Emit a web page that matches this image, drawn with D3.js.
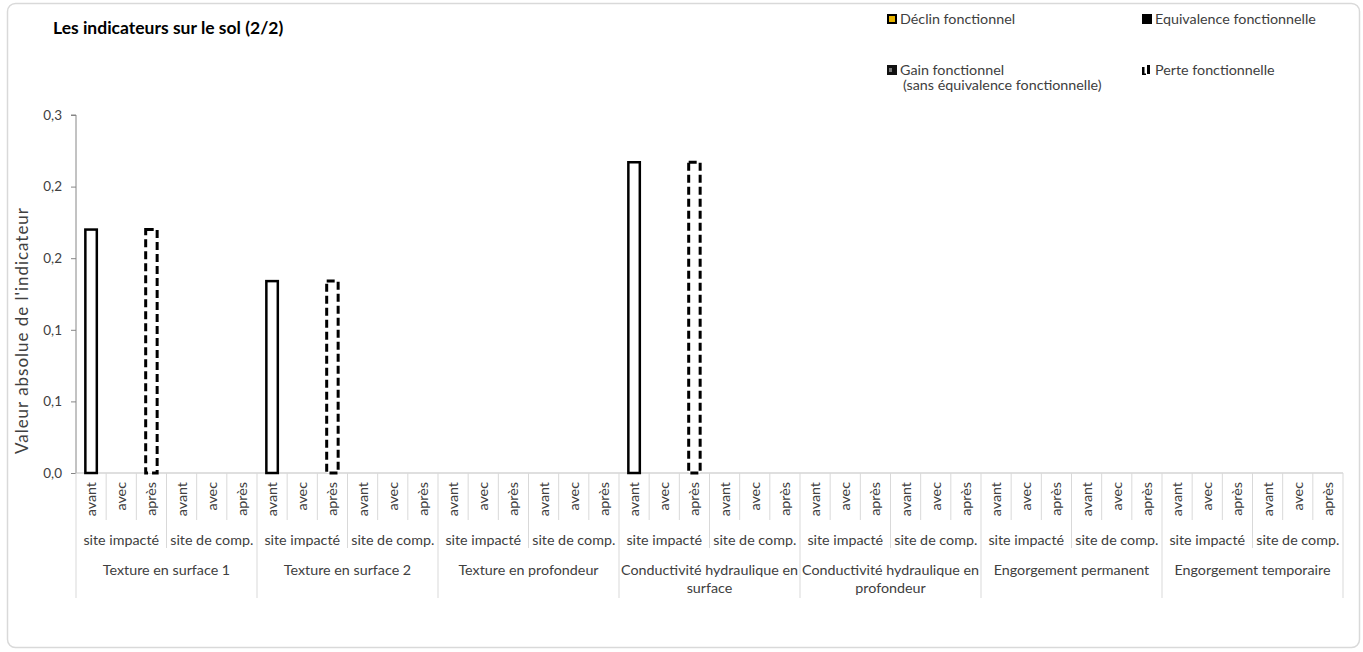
<!DOCTYPE html>
<html><head><meta charset="utf-8">
<script src="https://cdn.jsdelivr.net/npm/d3@7"></script>
<style>body{margin:0;background:#fff;} text{font-family:Lato,"Open Sans",sans-serif;}</style>
</head><body><svg id="c" width="1363" height="652"></svg>
<script>
const indicators = [["Texture en surface 1"],["Texture en surface 2"],["Texture en profondeur"],["Conductivité hydraulique en","surface"],["Conductivité hydraulique en","profondeur"],["Engorgement permanent"],["Engorgement temporaire"]];
const sites = ["site impacté","site de comp."];
const periods = ["avant","avec","après"];
// reference (avant, site impacté) values per indicator
const valeurAvant = [0.170, 0.134, 0, 0.217, 0, 0, 0];
// perte fonctionnelle (après, site impacté) values per indicator
const perteApres = [0.170, 0.134, 0, 0.217, 0, 0, 0];
const yTicks = [0, 0.05, 0.10, 0.15, 0.20, 0.25];
const legendItems = [["Déclin fonctionnel"],["Equivalence fonctionnelle"],["Gain fonctionnel","(sans équivalence fonctionnelle)"],["Perte fonctionnelle"]];

const svg = d3.select("#c");
const L = 76, R = 1343, T = 115, B = 473;
const FS = 14.3;
const slots = [];
indicators.forEach((ind,i)=>sites.forEach((s,j)=>periods.forEach((p,k)=>slots.push({i,j,k,key:i+"-"+j+"-"+k}))));
const x = d3.scaleBand().domain(slots.map(d=>d.key)).range([L,R]).paddingInner(0.62).paddingOuter(0.31);
const step = x.step();
const y = d3.scaleLinear().domain([0,0.25]).range([B,T]);

svg.append("rect").attr("x",7.5).attr("y",3.5).attr("width",1352).attr("height",644).attr("rx",8)
  .attr("fill","#fff").attr("stroke","#d9d9d9").attr("stroke-width",1.5);

svg.append("text").attr("x",53).attr("y",34).attr("font-weight","bold").attr("font-size",17.5).attr("fill","#000")
  .text("Les indicateurs sur le sol (2/2)");

// y axis
const yAxis = d3.axisLeft(y).tickValues(yTicks).tickSize(5).tickPadding(9)
  .tickFormat(d=>d3.format(".1f")(d+1e-9).replace(".",","));
const ga = svg.append("g").attr("transform",`translate(${L},0)`).call(yAxis);
ga.select(".domain").attr("stroke","#868686").attr("d",`M-5,${T}H0V${B}`);
ga.selectAll(".tick line").attr("stroke","#868686");
ga.selectAll(".tick text").attr("font-size",13.5).attr("fill","#404040").attr("font-family","Lato");
svg.append("text").attr("transform","translate(28,331) rotate(-90)").attr("text-anchor","middle")
  .attr("font-size",17).attr("textLength",246).attr("lengthAdjust","spacing")
  .attr("fill","#404040").text("Valeur absolue de l'indicateur");

// x axis baseline
svg.append("line").attr("x1",L).attr("x2",R).attr("y1",B).attr("y2",B).attr("stroke","#bfbfbf");
// separators
const grid = svg.append("g").attr("stroke","#d9d9d9").attr("stroke-width",1);
for(let n=0;n<=slots.length;n++){
  const xx = L + n*step;
  let y2 = 520;
  if(n%6===0) y2 = 598; else if(n%3===0) y2 = 548;
  grid.append("line").attr("x1",xx).attr("x2",xx).attr("y1",B).attr("y2",y2);
}
// level 1 labels
svg.append("g").selectAll("text").data(slots).join("text")
  .attr("transform",d=>`translate(${x(d.key)+x.bandwidth()/2+5},482) rotate(-90)`)
  .attr("text-anchor","end").attr("font-size",FS).attr("fill","#404040").text(d=>periods[d.k]);
// level 2
const siteData = [];
indicators.forEach((ind,i)=>sites.forEach((s,j)=>siteData.push({i,j,s})));
svg.append("g").selectAll("text").data(siteData).join("text")
  .attr("x",d=>L+(d.i*6+d.j*3+1.5)*step).attr("y",545).attr("text-anchor","middle")
  .attr("font-size",FS).attr("fill","#404040").text(d=>d.s);
// level 3
const g3 = svg.append("g").selectAll("text").data(indicators).join("text")
  .attr("x",(d,i)=>L+(i*6+3)*step).attr("y",575).attr("text-anchor","middle")
  .attr("font-size",FS).attr("fill","#404040");
g3.selectAll("tspan").data(d=>d).join("tspan").attr("x",function(){return this.parentNode.getAttribute("x");})
  .attr("dy",(d,i)=>i?18:0).text(d=>d);

// bars
const avantSlots = slots.filter(d=>d.j===0&&d.k===0);
svg.append("g").selectAll("rect").data(avantSlots.filter(d=>valeurAvant[d.i]>0)).join("rect")
  .attr("x",d=>x(d.key)).attr("width",x.bandwidth()).attr("y",d=>y(valeurAvant[d.i])).attr("height",d=>B-y(valeurAvant[d.i]))
  .attr("fill","#fff").attr("stroke","#000").attr("stroke-width",2.5);
const apresSlots = slots.filter(d=>d.j===0&&d.k===2);
svg.append("g").selectAll("rect").data(apresSlots.filter(d=>perteApres[d.i]>0)).join("rect")
  .attr("x",d=>x(d.key)).attr("width",x.bandwidth()).attr("y",d=>y(perteApres[d.i])).attr("height",d=>B-y(perteApres[d.i]))
  .attr("fill","#fff").attr("stroke","#000").attr("stroke-width",3).attr("stroke-dasharray","8,4");

// legend
const lg = svg.append("g");
const lpos = [[887,19],[1142,19],[887,70],[1142,70]];
legendItems.forEach((t,i)=>{
  const [lx,ly] = lpos[i];
  const g = lg.append("g");
  if(i===0){ g.append("rect").attr("x",lx).attr("y",ly-5).attr("width",10).attr("height",10).attr("fill","#000");
    g.append("rect").attr("x",lx+2).attr("y",ly-3).attr("width",6).attr("height",6).attr("fill","#e8b400"); }
  if(i===1){ g.append("rect").attr("x",lx).attr("y",ly-5).attr("width",10).attr("height",10).attr("fill","#000"); }
  if(i===2){ g.append("rect").attr("x",lx).attr("y",ly-5).attr("width",10).attr("height",10).attr("fill","#111");
    g.append("rect").attr("x",lx+2).attr("y",ly-2).attr("width",3).attr("height",4).attr("fill","#777"); }
  if(i===3){ g.append("rect").attr("x",lx).attr("y",ly-3).attr("width",2.5).attr("height",8).attr("fill","#000");
    g.append("rect").attr("x",lx).attr("y",ly+3.5).attr("width",4).attr("height",1.5).attr("fill","#000");
    g.append("rect").attr("x",lx+5).attr("y",ly-5).attr("width",3).attr("height",9).attr("fill","#000");}
  const tx = g.append("text").attr("x",lx+13).attr("y",ly+5).attr("font-size",FS).attr("fill","#404040");
  tx.selectAll("tspan").data(t).join("tspan").attr("x",(d,k)=>lx+13+(k?3:0)).attr("dy",(d,k)=>k?15:0).text(d=>d);
});
</script></body></html>
